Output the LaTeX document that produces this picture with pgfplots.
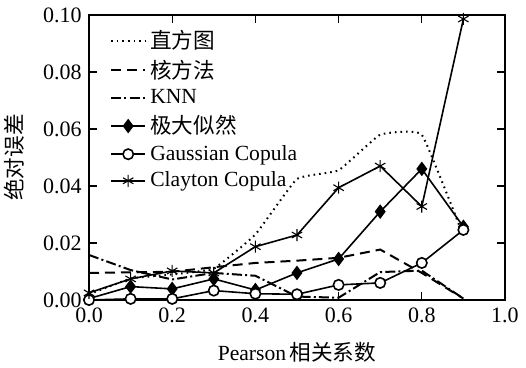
\documentclass[border=0pt]{standalone}
\usepackage{pgfplots}
\pgfplotsset{compat=1.18}
\usepackage{fontspec}
\setmainfont{Liberation Serif}
\newfontfamily\cjk{Noto Sans CJK SC}
\begin{document}
\fontsize{10.5}{12}\selectfont
\begin{tikzpicture}
\path[use as bounding box] (-44.5pt,-34pt) rectangle (218.5pt,150pt);
\begin{axis}[
  at={(0,0)}, anchor=south west,
  scale only axis, width=208pt, height=142.5pt,
  xmin=0, xmax=1, ymin=0, ymax=0.1,
  xtick={0,0.2,0.4,0.6,0.8,1.0},
  ytick={0,0.02,0.04,0.06,0.08,0.10},
  xticklabel style={/pgf/number format/.cd, fixed, fixed zerofill, precision=1},
  yticklabel style={/pgf/number format/.cd, fixed, fixed zerofill, precision=2},
  /pgf/number format/assume math mode=true,
  tick align=inside, major tick length=4pt,
  axis line style={line width=0.75pt},
  every tick/.style={line width=0.6pt, black},
  tick label style={font=\fontsize{11}{12}\selectfont},
  label style={font=\fontsize{10.8}{12}\selectfont},
  xlabel={Pearson\,{\cjk 相关系数}},
  ylabel={{\cjk 绝对误差}},
  xlabel style={yshift=-3pt},
  ylabel style={yshift=2pt},
  clip=false,
  legend cell align=left,
  legend style={draw=none, fill=none, at={(0.045,0.97)}, anchor=north west,
    font=\fontsize{10.8}{12}\selectfont, row sep=0.2pt, inner sep=1pt},
  every axis plot/.append style={line width=0.8pt, black},
]
\addplot[line width=1pt, dash pattern=on 0.8pt off 2pt, smooth, tension=0.2] coordinates {
 (0,0.002) (0.1,0.0075) (0.2,0.009) (0.3,0.011) (0.4,0.023) (0.5,0.0425) (0.6,0.0455) (0.7,0.058) (0.8,0.058) (0.9,0.0225)};
\addlegendentry{\cjk 直方图}
\addplot[line width=1pt, dash pattern=on 5pt off 3pt] coordinates {
 (0,0.0095) (0.1,0.0097) (0.2,0.0099) (0.3,0.0115) (0.4,0.013) (0.5,0.0138) (0.6,0.0148) (0.7,0.0177) (0.8,0.0095) (0.9,0.0005)};
\addlegendentry{\cjk 核方法}
\addplot[line width=1pt, dash pattern=on 5pt off 1.6pt on 1pt off 1.6pt] coordinates {
 (0,0.0158) (0.1,0.0105) (0.2,0.0072) (0.3,0.0095) (0.4,0.0085) (0.5,0.0012) (0.6,0.0008) (0.7,0.0098) (0.8,0.0103) (0.9,0.0005)};
\addlegendentry{KNN}
\addplot[mark=diamond*, mark size=3pt, mark options={solid, fill=black}] coordinates {
 (0,0.0005) (0.1,0.0047) (0.2,0.0039) (0.3,0.0074) (0.4,0.0035) (0.5,0.0095) (0.6,0.0144) (0.7,0.031) (0.8,0.046) (0.9,0.0257)};
\addlegendentry{\cjk 极大似然}
\addplot[mark=*, mark size=2.6pt, mark options={solid, fill=white, draw=black}] coordinates {
 (0,0.0) (0.1,0.0004) (0.2,0.0004) (0.3,0.0033) (0.4,0.0022) (0.5,0.002) (0.6,0.0053) (0.7,0.006) (0.8,0.013) (0.9,0.0246)};
\addlegendentry{Gaussian Copula}
\addplot[mark=asterisk, mark size=3pt, mark options={solid, line width=0.55pt}] coordinates {
 (0,0.0025) (0.1,0.0074) (0.2,0.0102) (0.3,0.0095) (0.4,0.0187) (0.5,0.0228) (0.6,0.0394) (0.7,0.047) (0.8,0.0328) (0.9,0.0986)};
\addlegendentry{Clayton Copula}
\end{axis}
\end{tikzpicture}
\end{document}
